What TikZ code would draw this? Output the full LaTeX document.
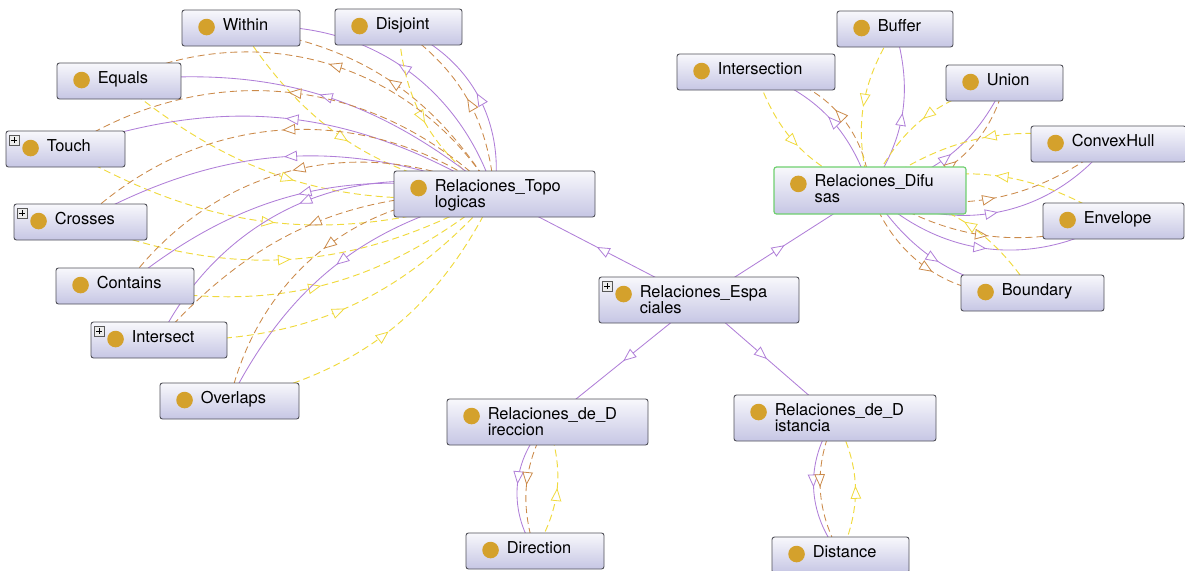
\documentclass[tikz,border=0pt]{standalone}
\usepackage{fontspec}
\setmainfont{TeX Gyre Heros}
\usetikzlibrary{arrows.meta,decorations.markings,backgrounds}

\definecolor{isacol}{HTML}{B07FD8}
\definecolor{propcol}{HTML}{CB8A4A}
\definecolor{invcol}{HTML}{F0DA3E}
\definecolor{boxtop}{HTML}{F8F8FC}
\definecolor{boxbot}{HTML}{C6C6E4}
\definecolor{boxline}{HTML}{505058}
\definecolor{dotcol}{HTML}{D4A12C}
\definecolor{selcol}{HTML}{6FCF6F}

\tikzset{
  classbox/.style={rectangle, rounded corners=2.5pt, draw=boxline, line width=0.9pt,
    top color=boxtop, bottom color=boxbot, inner sep=0pt},
  classlabel/.style={inner sep=0pt, anchor=base west, font=\fontsize{16.4}{16}\selectfont, text=black},
  midtri/.style={postaction={decorate}, decoration={markings,
    mark=at position 0.5 with {\arrow{Triangle[open, fill=white, length=13pt, width=10.5pt, line width=0.8pt]}}}},
  subcls/.style={draw=isacol, line width=0.85pt, midtri},
  relprop/.style={draw=propcol, line width=0.85pt, dash pattern=on 7pt off 4pt, midtri},
  invprop/.style={draw=invcol, line width=0.95pt, dash pattern=on 7pt off 4pt, midtri},
  plusbox/.style={draw=gray!70!black, fill=gray!15, line width=0.5pt, minimum size=10pt, inner sep=0pt},
}

% class box: [extra style]{name}{left}{top}{width}{height}{label}
\newcommand\ontoclass[7][]{%
  \node[classbox, minimum width=#5pt, minimum height=#6pt, #1] (#2) at ({#3+#5/2},{#4+#6/2}) {};
  \fill[dotcol] ([xshift=25pt,yshift=-17.5pt]#2.north west) circle (8.3pt);
  \node[classlabel] (#2-lbl) at ([xshift=41pt,yshift=-20.5pt]#2.north west) {#7};
}
% small expand marker in the corner of a class box
\newcommand\expandmark[1]{%
  \node[plusbox] (#1-plus) at ([xshift=8.5pt,yshift=-9.5pt]#1.north west) {};
  \draw[line width=0.9pt] ([xshift=-3pt]#1-plus.center) -- ([xshift=3pt]#1-plus.center)
    ([yshift=-3pt]#1-plus.center) -- ([yshift=3pt]#1-plus.center);
}
\newcommand\twolines[2]{\vtop{\hbox{#1}\hbox{#2}}}

\begin{document}
\begin{tikzpicture}[x=1pt, y=-1pt]
\useasboundingbox (0,0) rectangle (1185,570);

% topological relations
\ontoclass{within}{182}{10}{118}{36}{Within}
\ontoclass{disjoint}{335}{9}{127}{36}{Disjoint}
\ontoclass{equals}{57}{63}{124}{36}{Equals}
\ontoclass{touch}{6}{131}{119}{36}{Touch}
\ontoclass{crosses}{14}{204}{133}{36}{Crosses}
\ontoclass{contains}{56}{268}{138}{36}{Contains}
\ontoclass{intersect}{91}{322}{136}{36}{Intersect}
\ontoclass{overlaps}{160}{383}{139}{36}{Overlaps}
\ontoclass{topo}{394}{171}{201}{46}{\twolines{Relaciones\_Topo}{logicas}}
\expandmark{touch}
\expandmark{crosses}
\expandmark{intersect}

% fuzzy relations
\ontoclass[draw=selcol, line width=1.2pt]{difusas}{774}{167}{192}{47}{\twolines{Relaciones\_Difu}{sas}}
\ontoclass{buffer}{837}{11}{116}{36}{Buffer}
\ontoclass{intersection}{677}{54}{158}{36}{Intersection}
\ontoclass{union}{946}{65}{117}{36}{Union}
\ontoclass{convexhull}{1031}{126}{155}{36}{ConvexHull}
\ontoclass{envelope}{1043}{203}{141}{36}{Envelope}
\ontoclass{boundary}{961}{275}{143}{36}{Boundary}

% spatial relations
\ontoclass{espaciales}{599}{277}{200}{46}{\twolines{Relaciones\_Espa}{ciales}}
\expandmark{espaciales}
\ontoclass{direccion}{447}{399}{201}{46}{\twolines{Relaciones\_de\_D}{ireccion}}
\ontoclass{distancia}{734}{395}{202}{46}{\twolines{Relaciones\_de\_D}{istancia}}
\ontoclass{direction}{466}{533}{138}{36}{Direction}
\ontoclass{distance}{772}{537}{137}{36}{Distance}

\begin{scope}[on background layer]
  % hierarchy
  \draw[subcls] (espaciales.center) -- (topo.center);
  \draw[subcls] (espaciales.center) -- (difusas.center);
  \draw[subcls] (espaciales.center) -- (direccion.center);
  \draw[subcls] (espaciales.center) -- (distancia.center);

  % topological cluster
  \draw[subcls]  (topo.center) to[bend right=39] (within.center);
  \draw[relprop] (topo.center) to[bend right=25] (within.center);
  \draw[invprop] (within.center) to[bend right=24] (topo.center);

  \draw[subcls]  (topo.center) to[bend right=38] (disjoint.center);
  \draw[relprop] (topo.center) to[bend right=25] (disjoint.center);
  \draw[invprop] (disjoint.center) to[bend right=26] (topo.center);

  \draw[subcls]  (topo.center) to[bend right=23] (equals.center);
  \draw[relprop] (topo.center) to[bend right=42] (equals.center);
  \draw[invprop] (equals.center) to[bend right=23] (topo.center);

  \draw[subcls]  (topo.center) to[bend right=25] (touch.center);
  \draw[relprop] (topo.center) to[bend right=39] (touch.center);
  \draw[invprop] (touch.center) to[bend right=24] (topo.center);

  \draw[subcls]  (topo.center) to[bend right=25] (crosses.center);
  \draw[relprop] (topo.center) to[bend right=40] (crosses.center);
  \draw[invprop] (crosses.center) to[bend right=25] (topo.center);

  \draw[subcls]  (topo.center) to[bend right=25] (contains.center);
  \draw[relprop] (topo.center) to[bend right=40] (contains.center);
  \draw[invprop] (contains.center) to[bend right=25] (topo.center);

  \draw[subcls]  (topo.center) to[bend right=40] (intersect.center);
  \draw[relprop] (topo.center) to[bend right=25] (intersect.center);
  \draw[invprop] (intersect.center) to[bend right=25] (topo.center);

  \draw[subcls]  (topo.center) to[bend right=25] (overlaps.center);
  \draw[relprop] (topo.center) to[bend right=39] (overlaps.center);
  \draw[invprop] (overlaps.center) to[bend right=26] (topo.center);

  % fuzzy cluster
  \draw[subcls]  (difusas.center) to[bend right=26] (intersection.center);
  \draw[relprop] (difusas.center) to[bend right=40] (intersection.center);
  \draw[invprop] (intersection.center) to[bend right=26] (difusas.center);

  \draw[subcls]  (difusas.center) to[bend right=25] (buffer.center);
  \draw[invprop] (buffer.center) to[bend right=24] (difusas.center);

  \draw[subcls]  (difusas.center) to[bend right=26] (union.center);
  \draw[relprop] (difusas.center) to[bend right=38] (union.center);
  \draw[invprop] (union.center) to[bend right=27] (difusas.center);

  \draw[subcls]  (difusas.center) to[bend right=40] (convexhull.center);
  \draw[relprop] (difusas.center) to[bend right=26] (convexhull.center);
  \draw[invprop] (convexhull.center) to[bend right=25] (difusas.center);

  \draw[subcls]  (difusas.center) to[bend right=37] (envelope.center);
  \draw[relprop] (difusas.center) to[bend right=25] (envelope.center);
  \draw[invprop] (envelope.center) to[bend right=25] (difusas.center);

  \draw[subcls]  (difusas.center) to[bend right=25] (boundary.center);
  \draw[relprop] (difusas.center) to[bend right=39] (boundary.center);
  \draw[invprop] (boundary.center) to[bend right=25] (difusas.center);

  % direction and distance
  \draw[subcls]  (direccion.center) to[bend right=39] (direction.center);
  \draw[relprop] (direccion.center) to[bend right=23] (direction.center);
  \draw[invprop] (direction.center) to[bend right=25] (direccion.center);

  \draw[subcls]  (distancia.center) to[bend right=37] (distance.center);
  \draw[relprop] (distancia.center) to[bend right=26] (distance.center);
  \draw[invprop] (distance.center) to[bend right=26] (distancia.center);
\end{scope}
\end{tikzpicture}
\end{document}
